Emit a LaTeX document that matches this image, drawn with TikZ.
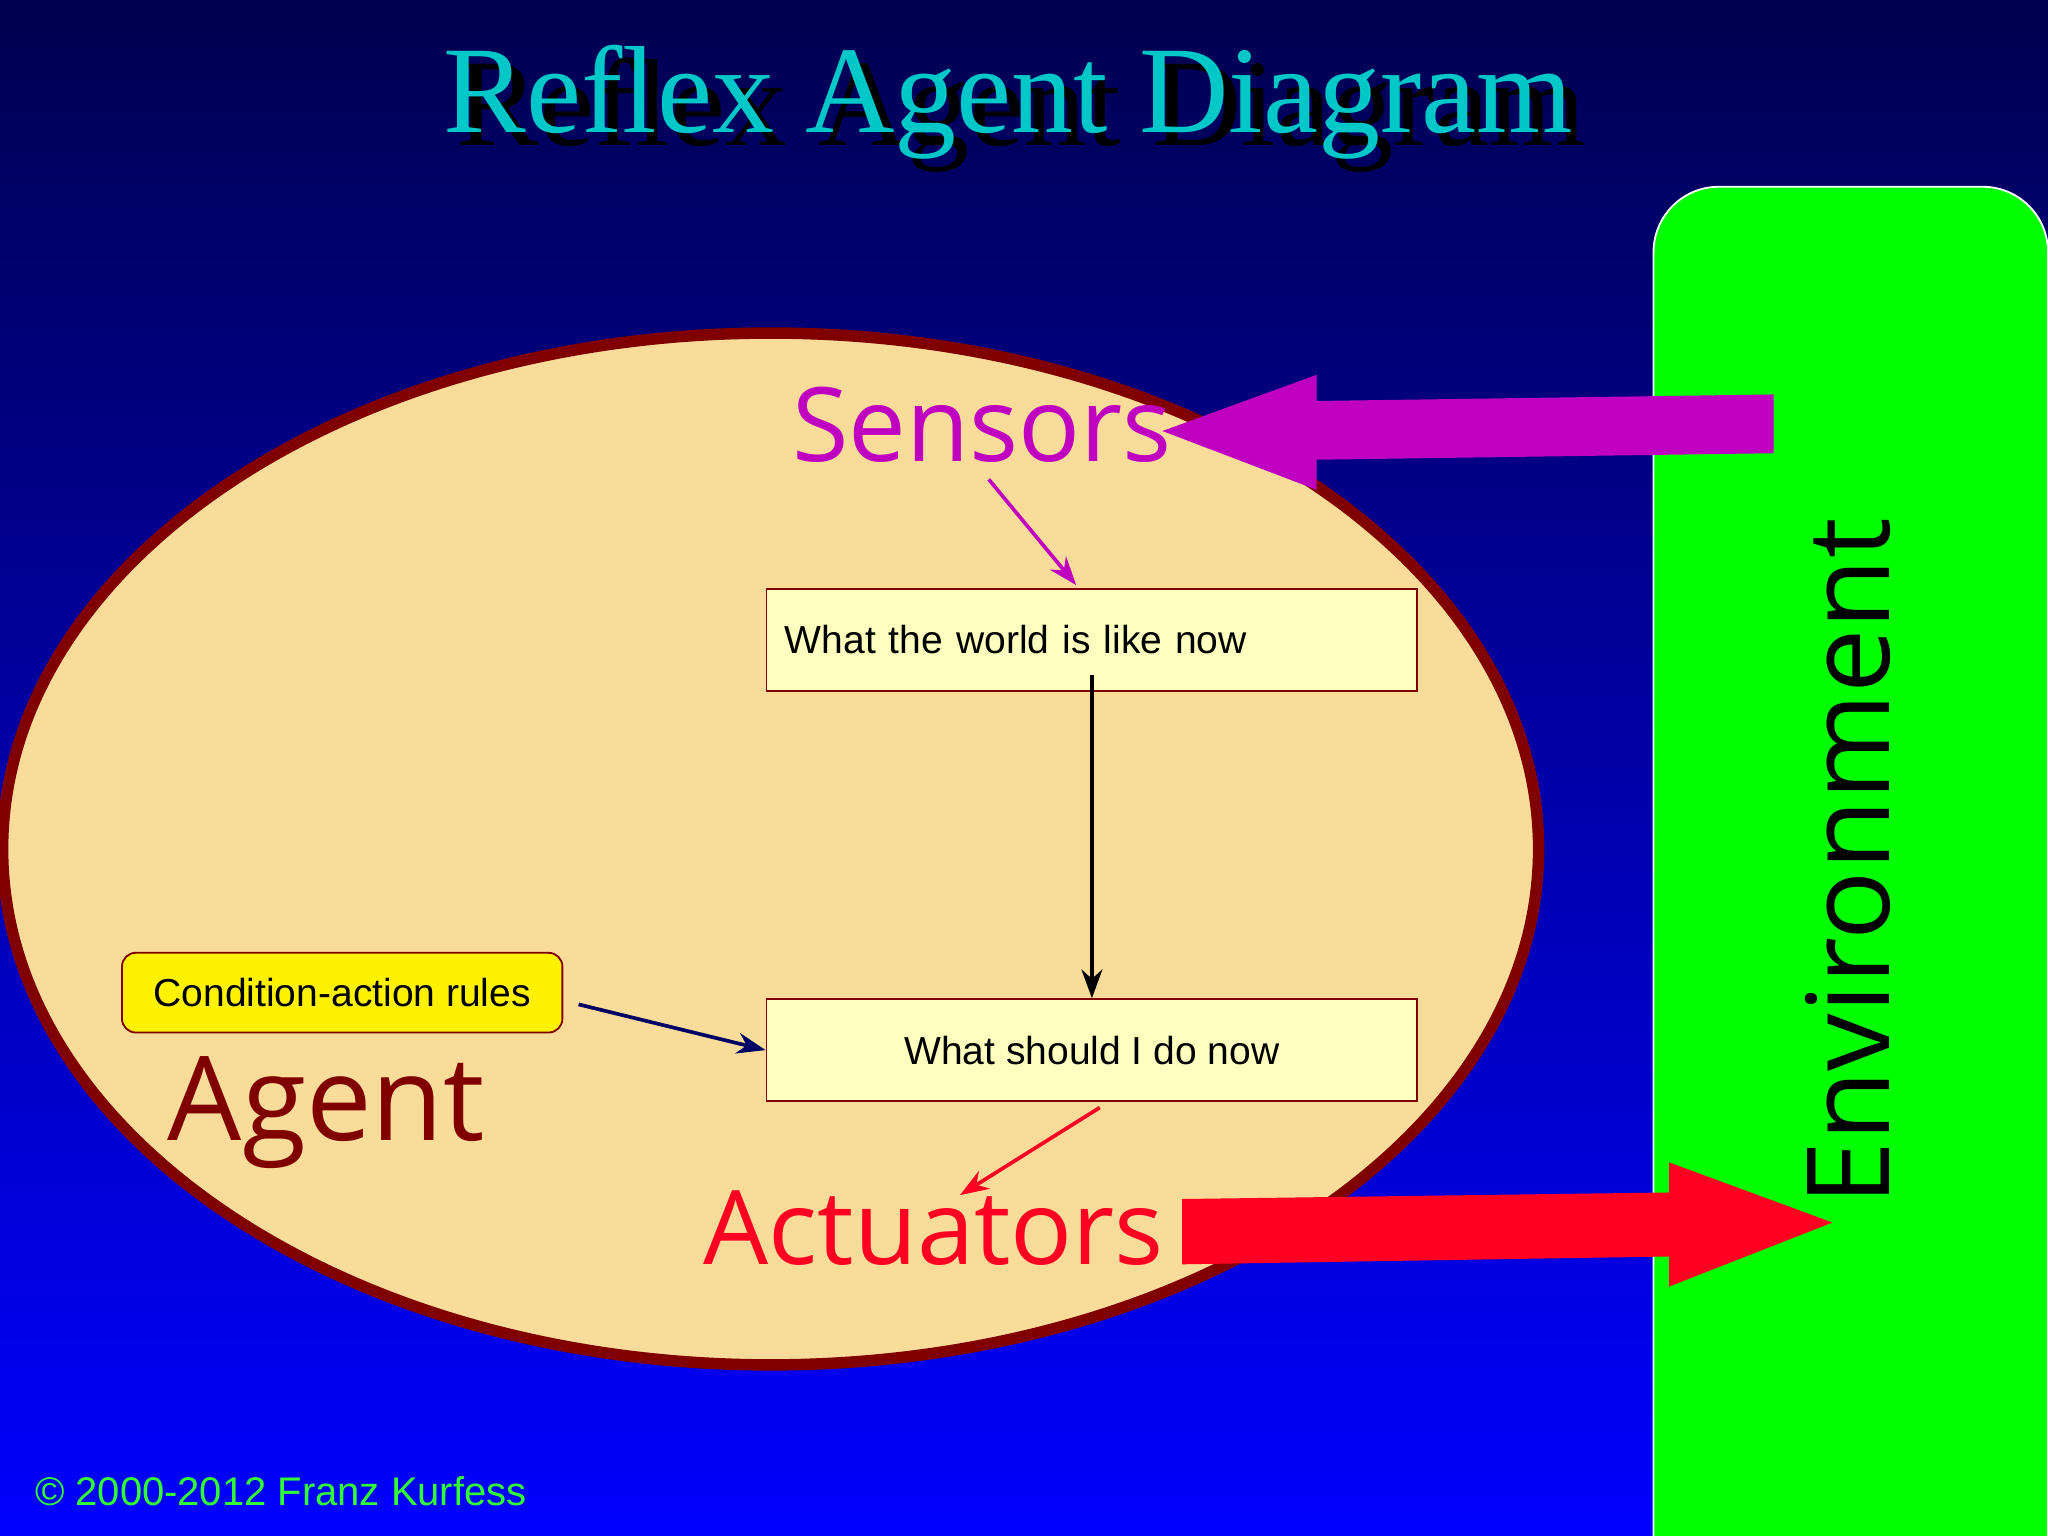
\documentclass[tikz,border=0pt]{standalone}
\usepackage{fontspec}
\setmainfont{Liberation Sans}
\newfontfamily\titlefont{Liberation Serif}
\newfontfamily\labelfont{Open Sans}
\usetikzlibrary{positioning,arrows.meta,shadows}
\definecolor{agentfill}{HTML}{FADC9A}
\definecolor{darkred}{HTML}{800000}
\definecolor{boxfill}{HTML}{FFFFC0}
\definecolor{sensorcol}{HTML}{C000C0}
\definecolor{actcol}{HTML}{FF0022}
\definecolor{titlecol}{HTML}{00C8C8}
\definecolor{bgtop}{HTML}{000050}
\definecolor{bgbottom}{HTML}{0000FF}
\definecolor{navy}{HTML}{000064}
\definecolor{copycol}{HTML}{32FF32}
\tikzset{
  state/.style={draw=darkred,fill=boxfill,minimum width=4.98cm,minimum height=0.78cm,font=\fontsize{8.5}{10}\selectfont},
  biglabel/.style={font=\labelfont\fontsize{22.4}{26}\selectfont},
  thin arrow/.style={-{Stealth[length=2.2mm,width=1.6mm]},thick}
}
\begin{document}
\begin{tikzpicture}[x=0.01cm,y=-0.01cm]
	\shade[top color=bgtop,bottom color=bgbottom] (0,0) rectangle (1568,1176);
	\useasboundingbox (0,0) rectangle (1568,1176);
	% title
	\node[text=black,font=\titlefont\fontsize{27}{31}\selectfont] at (782,88) {Reflex Agent Diagram};
	\node[text=titlecol,font=\titlefont\fontsize{27}{31}\selectfont] (title) at (772,78) {Reflex Agent Diagram};
	% environment
	\draw[white,fill=green,rounded corners=0.5cm] (1266,143) rectangle (1568,1230);
	\node[rotate=90,biglabel,font=\labelfont\fontsize{25}{29}\selectfont] (env) at (1415,660) {Environment};
	% agent
	\draw[darkred,line width=2.5pt,fill=agentfill] (590,650) ellipse (588 and 395);
	\node[text=darkred,font=\labelfont\fontsize{25.5}{30}\selectfont] (agent) at (250,852) {Agent};
	\node[biglabel,text=sensorcol] (sensors) at (752,325) {Sensors};
	\node[biglabel,text=actcol] (actuators) at (715,940) {Actuators};
	% boxes
	\node[state,text width=4.7cm,align=left] (world) at (836,490) {What the world is like now};
	\node[state] (action) at (836,804) {What should I do now};
	\node[draw=darkred,fill=yellow,rounded corners=3pt,minimum width=3.37cm,minimum height=0.61cm,font=\fontsize{8.5}{10}\selectfont] (rules) at (262,760) {Condition-action rules};
	% connectors
	\draw[thin arrow,sensorcol] (757,367) -- (824,448);
	\draw[thin arrow,black] (836,517) -- (action.north);
	\draw[thin arrow,navy] (443,769) -- (action.west);
	\coordinate (actend) at (735,915);
	\draw[thin arrow,actcol] (842,848) -- (actend);
	% big arrows
	\fill[sensorcol] (1358,302) -- (1008,307) -- (1008,287) -- (890,330) -- (1008,375) -- (1008,352) -- (1358,347) -- cycle;
	\fill[actcol] (905,918) -- (1278,913) -- (1278,890) -- (1403,936) -- (1278,985) -- (1278,962) -- (905,968) -- cycle;
	% copyright
	\node[text=copycol,font=\fontsize{8.7}{10.5}\selectfont] (copy) at (215,1142) {© 2000-2012 Franz Kurfess};
\end{tikzpicture}
\end{document}
